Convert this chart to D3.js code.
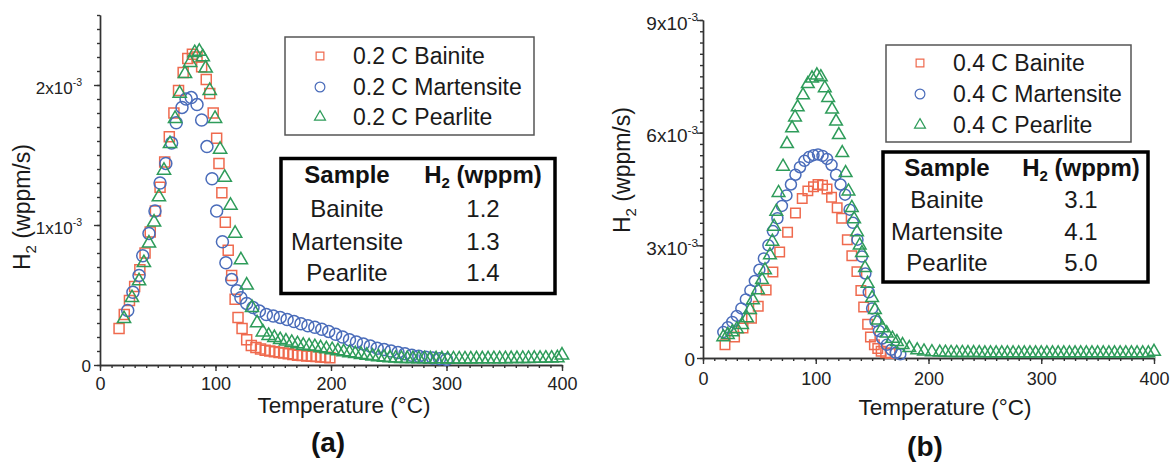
<!DOCTYPE html>
<html>
<head>
<meta charset="utf-8">
<script src="https://cdn.jsdelivr.net/npm/d3@7"></script>
<style>
  body { margin: 0; background: #fff; }
  svg { font-family: "Liberation Sans", Arial, sans-serif; }
</style>
</head>
<body>
<svg id="chart" width="1175" height="464"></svg>
<script>
// --- DATA (temperature in °C, H2 rate in units of 1e-3 wppm/s) ---
const xTickValues = [0, 100, 200, 300, 400];
const yTicksA = [0, 1, 2];
const yTicksB = [0, 3, 6, 9];

const legendA = ["0.2 C Bainite", "0.2 C Martensite", "0.2 C Pearlite"];
const legendB = ["0.4 C Bainite", "0.4 C Martensite", "0.4 C Pearlite"];
const sampleNames = ["Bainite", "Martensite", "Pearlite"];
const h2ContentA = ["1.2", "1.3", "1.4"];
const h2ContentB = ["3.1", "4.1", "5.0"];

const bainiteA = [[16.5,0.26],[21,0.36],[25.5,0.46],[30,0.56],[34.5,0.68],[39,0.80],[43.5,0.95],[48,1.10],[52,1.27],[56,1.45],
  [60,1.63],[64,1.80],[68,1.96],[72,2.09],[76,2.19],[80,2.22],[84,2.20],[88,2.13],[92,2.04],[95,1.94],[98,1.80],[101,1.62],
  [103,1.44],[105.5,1.23],[108.5,1.02],[111,0.82],[114,0.64],[117,0.47],[119.5,0.34],[123,0.26],[127,0.18],[131,0.14],
  [135,0.125],[139,0.115],[143,0.105],[147,0.10],[151,0.095],[155,0.09],[159,0.085],[163,0.08],[167,0.075],[171,0.07],
  [175,0.068],[179,0.065],[183,0.062],[187,0.06],[191,0.057],[195,0.055],[199,0.052]];

const martensiteA = [[24,0.39],[28.5,0.52],[33.8,0.64],[37,0.78],[42.4,0.94],[47.6,1.10],[52,1.30],[57,1.44],[62,1.585],
  [66,1.73],[71,1.84],[74.5,1.90],[79,1.91],[84,1.86],[88,1.75],[92.6,1.56],[97,1.33],[101,1.10],[106,0.88],[109,0.73],
  [114,0.61],[118.6,0.53],[122,0.48],[127,0.44],[132.5,0.41],[138,0.385],[144,0.36],[150,0.35],[156,0.34],[162,0.325],
  [168,0.31],[174,0.295],[180,0.28],[186,0.27],[192,0.255],[198,0.24],[204,0.22],[210,0.20],[216,0.18],[222,0.165],
  [228,0.15],[234,0.135],[240,0.12],[246,0.11],[252,0.10],[258,0.09],[264,0.08],[270,0.07],[276,0.062],[282,0.055],
  [288,0.05],[294,0.045],[300,0.04]];

const pearliteA = [[20.8,0.33],[27.7,0.48],[33.8,0.60],[38,0.73],[42.4,0.87],[46.8,1.02],[51,1.20],[55.4,1.39],[60.6,1.58],
  [65,1.76],[69,1.94],[73.6,2.08],[78,2.16],[82,2.23],[86,2.24],[89,2.20],[91.5,2.12],[95,1.96],[99.6,1.76],[104,1.54],
  [108,1.34],[113,1.14],[117,0.94],[122,0.75],[127,0.57],[131.6,0.41],[136,0.30],[141,0.235],[146,0.21],[151,0.195],
  [156,0.18],[161,0.17],[166,0.16],[171,0.15],[176,0.14],[181,0.135],[186,0.13],[191,0.122],[196,0.115],[201,0.108],
  [206,0.10],[211,0.093],[216,0.087],[221,0.08],[226,0.074],[231,0.068],[236,0.063],[241,0.058],[246,0.054],[251,0.05],
  [256,0.048],[261,0.046],[266,0.045],[271,0.045],[276,0.044],[281,0.044],[286,0.043],[291,0.043],[296,0.043],[301,0.042],
  [306,0.042],[311,0.042],[316,0.042],[321,0.042],[326,0.043],[331,0.043],[336,0.043],[341,0.044],[346,0.044],[351,0.044],
  [356,0.045],[361,0.045],[366,0.046],[371,0.046],[376,0.047],[381,0.047],[386,0.048],[391,0.048],[396,0.05],[400,0.07]];

const bainiteB = [[19.5,0.35],[28,0.56],[35.5,0.80],[43,1.06],[49,1.38],[56,1.81],[62,2.29],[68,2.82],[75,3.35],[82,3.86],
  [88,4.25],[93,4.45],[98,4.56],[102,4.62],[106,4.60],[110,4.50],[114,4.28],[119,4.00],[123,3.72],[128,3.15],[132,2.72],
  [136.5,2.30],[140,1.80],[142.5,1.36],[146,0.90],[148.5,0.56],[152,0.35],[155,0.25],[158,0.18],[162,0.14],[166,0.12]];

const martensiteB = [[18,0.69],[22,0.82],[26,0.96],[30,1.12],[34,1.32],[38,1.56],[42,1.80],[46,2.05],[50,2.35],[54,2.65],
  [58,3.00],[62,3.38],[66,3.72],[70,4.05],[74,4.33],[78,4.62],[82,4.88],[86,5.08],[90,5.25],[94,5.35],[98,5.40],[102,5.42],
  [106,5.38],[110,5.30],[114,5.14],[118,4.88],[122,4.62],[126,4.35],[130,3.95],[133,3.60],[137,3.15],[141,2.70],[144,2.25],
  [147,1.75],[150,1.32],[153,0.98],[156,0.72],[159,0.52],[163,0.35],[167,0.22],[171,0.14],[175,0.10]];

const pearliteB = [[18,0.56],[22,0.62],[26,0.69],[30,0.77],[34.6,0.88],[39,1.06],[41.7,1.28],[44.3,1.54],[48.8,1.81],
  [52.3,2.08],[55,2.34],[59.4,2.74],[61.5,3.10],[63,3.50],[65,3.90],[67,4.40],[71,5.10],[74.5,5.70],[79,6.12],[81.6,6.41],
  [84,6.68],[88.7,7.00],[93,7.30],[96.7,7.45],[101,7.53],[104.5,7.48],[108,7.19],[111,6.93],[114.5,6.62],[118,6.30],
  [120.5,5.94],[123.5,5.46],[126.5,4.93],[129,4.44],[132,4.00],[134,3.70],[136.6,3.35],[139,3.00],[141,2.80],[143.7,2.40],
  [146,1.98],[150,1.60],[152.5,1.28],[155,1.00],[159,0.80],[163,0.66],[168,0.52],[172,0.43],[177,0.35],[183,0.27],
  [190,0.21],[196,0.18],[203,0.16],[210,0.15],[215,0.145],[220,0.14],[225,0.14],[230,0.14],[235,0.135],[240,0.135],
  [245,0.135],[250,0.13],[255,0.13],[260,0.13],[265,0.13],[270,0.13],[275,0.13],[280,0.13],[285,0.13],[290,0.13],
  [295,0.13],[300,0.13],[305,0.13],[310,0.13],[315,0.13],[320,0.13],[325,0.13],[330,0.13],[335,0.13],[340,0.13],
  [345,0.13],[350,0.13],[355,0.13],[360,0.13],[365,0.13],[370,0.13],[375,0.13],[380,0.13],[385,0.13],[390,0.13],
  [395,0.13],[400,0.17]];

// --- STYLE ---
const COLORS = ["#ef6a4e", "#4a6cba", "#2e9c5a"];
const SHAPES = [d3.symbolSquare, d3.symbolCircle, d3.symbolTriangle];
const AXIS_COLOR = "#333";

const svg = d3.select("#chart");

function drawPanel(cfg) {
    const x = d3.scaleLinear().domain([0, 400]).range([cfg.x0, cfg.x1]);
    const y = d3.scaleLinear().domain([0, cfg.yMax]).range([cfg.yBottom, cfg.yTop]);
    const g = svg.append("g");

    // minor ticks
    const minorX = d3.range(0, 401, 10);
    const minorY = d3.range(0, cfg.yMax + 1e-9, cfg.yMinorStep);
    g.append("g").attr("transform", `translate(0,${cfg.yBottom})`)
        .call(d3.axisBottom(x).tickValues(minorX).tickSize(3).tickFormat("").tickSizeOuter(0));
    g.append("g").attr("transform", `translate(${cfg.x0},0)`)
        .call(d3.axisLeft(y).tickValues(minorY).tickSize(3).tickFormat("").tickSizeOuter(0));

    // major x axis
    const gx = g.append("g").attr("transform", `translate(0,${cfg.yBottom})`)
        .call(d3.axisBottom(x).tickValues(xTickValues).tickSize(6).tickPadding(cfg.xPad).tickSizeOuter(0));
    gx.selectAll(".tick text").attr("font-size", cfg.xFont).attr("fill", "#222")
        .attr("font-family", "Liberation Sans, Arial, sans-serif");

    // major y axis, labels written as Nx10^-3
    const gy = g.append("g").attr("transform", `translate(${cfg.x0},0)`)
        .call(d3.axisLeft(y).tickValues(cfg.yTicks).tickSize(6).tickFormat(() => "").tickSizeOuter(0));
    gy.selectAll(".tick text").each(function(d) {
        const t = d3.select(this)
            .attr("font-size", cfg.yFont).attr("fill", "#222")
            .attr("font-family", "Liberation Sans, Arial, sans-serif")
            .attr("dy", "0.38em");
        if (d === 0) {
            t.attr("x", cfg.zeroEnd - cfg.x0).text("0");
        } else {
            t.attr("x", cfg.labelEnd - cfg.x0).attr("y", 2);
            t.append("tspan").text(d + "x10");
            t.append("tspan").attr("dy", -cfg.yFont * 0.45).attr("font-size", cfg.yFont * 0.62).text("-3");
        }
    });

    g.selectAll(".domain, .tick line").attr("stroke", AXIS_COLOR).attr("stroke-width", 1.4);

    // data markers
    cfg.series.forEach((data, i) => {
        g.append("g").selectAll("path")
            .data(data)
            .join("path")
            .attr("transform", d => `translate(${x(d[0])},${y(d[1])})`)
            .attr("d", d3.symbol(SHAPES[i], cfg.markerSizes[i]))
            .attr("fill", "none")
            .attr("stroke", COLORS[i])
            .attr("stroke-width", 1.5);
    });

    // legend
    const lg = cfg.legend;
    g.append("rect").attr("x", lg.x).attr("y", lg.y).attr("width", lg.w).attr("height", lg.h)
        .attr("fill", "#fff").attr("stroke", "#555").attr("stroke-width", 1.5);
    lg.labels.forEach((label, i) => {
        g.append("path")
            .attr("transform", `translate(${lg.markerX},${lg.rows[i]})`)
            .attr("d", d3.symbol(SHAPES[i], [60, 75, 52][i]))
            .attr("fill", "none").attr("stroke", COLORS[i]).attr("stroke-width", 1.2);
        g.append("text").attr("x", lg.textX).attr("y", lg.rows[i] + 8)
            .attr("font-size", 23).attr("fill", "#1a1a1a").text(label);
    });

    // content table
    const tb = cfg.table;
    g.append("rect").attr("x", tb.x).attr("y", tb.y).attr("width", tb.w).attr("height", tb.h)
        .attr("fill", "#fff").attr("stroke", "#000").attr("stroke-width", 3.5);
    g.append("text").attr("x", tb.colX[0]).attr("y", tb.rows[0]).attr("text-anchor", "middle")
        .attr("font-size", 24).attr("font-weight", "bold").attr("fill", "#111").text("Sample");
    const h2 = g.append("text").attr("x", tb.colX[1]).attr("y", tb.rows[0]).attr("text-anchor", "middle")
        .attr("font-size", 24).attr("font-weight", "bold").attr("fill", "#111");
    h2.append("tspan").text("H");
    h2.append("tspan").attr("font-size", 15).attr("dy", 5).text("2");
    h2.append("tspan").attr("dy", -5).text(" (wppm)");
    sampleNames.forEach((name, i) => {
        g.append("text").attr("x", tb.colX[0]).attr("y", tb.rows[i + 1]).attr("text-anchor", "middle")
            .attr("font-size", 24).attr("fill", "#1a1a1a").text(name);
        g.append("text").attr("x", tb.colX[1]).attr("y", tb.rows[i + 1]).attr("text-anchor", "middle")
            .attr("font-size", 24).attr("fill", "#1a1a1a").text(tb.values[i]);
    });

    // axis titles
    g.append("text").attr("x", cfg.xTitle[0]).attr("y", cfg.xTitle[1]).attr("text-anchor", "middle")
        .attr("font-size", 22.5).attr("fill", "#1a1a1a").text("Temperature (°C)");
    const yt = g.append("text")
        .attr("transform", `translate(${cfg.yTitle[0]},${cfg.yTitle[1]}) rotate(-90)`)
        .attr("font-size", 23).attr("fill", "#1a1a1a");
    yt.append("tspan").text("H");
    yt.append("tspan").attr("font-size", 15).attr("dy", 6).text("2");
    yt.append("tspan").attr("dy", -6).text(" (wppm/s)");

    g.append("text").attr("x", cfg.tag[0]).attr("y", cfg.tag[1]).attr("text-anchor", "middle")
        .attr("font-size", 28).attr("font-weight", "bold").attr("fill", "#111").text(cfg.tagText);
}

drawPanel({
    x0: 100, x1: 562, yBottom: 365, yTop: 15, yMax: 2.5, yMinorStep: 0.1, yTicks: yTicksA,
    xPad: 6, xFont: 18, yFont: 17, labelEnd: 82, zeroEnd: 91,
    series: [bainiteA, martensiteA, pearliteA], markerSizes: [100, 113, 76],
    legend: { x: 285, y: 37, w: 249, h: 98, markerX: 320, textX: 353, rows: [56, 87, 117], labels: legendA },
    table: { x: 281, y: 158.5, w: 274, h: 135, colX: [347, 483], rows: [183, 217, 250, 281], values: h2ContentA },
    xTitle: [344, 413], yTitle: [30, 270], tag: [328, 452], tagText: "(a)"
});

drawPanel({
    x0: 703, x1: 1154, yBottom: 358, yTop: 20, yMax: 9, yMinorStep: 0.3, yTicks: yTicksB,
    xPad: 8, xFont: 18, yFont: 19, labelEnd: 698, zeroEnd: 695,
    series: [bainiteB, martensiteB, pearliteB], markerSizes: [90, 95, 70],
    legend: { x: 886, y: 45, w: 245, h: 97, markerX: 920, textX: 953, rows: [63, 94, 125], labels: legendB },
    table: { x: 883, y: 152, w: 265, h: 130, colX: [947, 1081], rows: [176, 208, 240, 271], values: h2ContentB },
    xTitle: [945, 415], yTitle: [630, 233], tag: [925, 456], tagText: "(b)"
});
</script>
</body>
</html>
